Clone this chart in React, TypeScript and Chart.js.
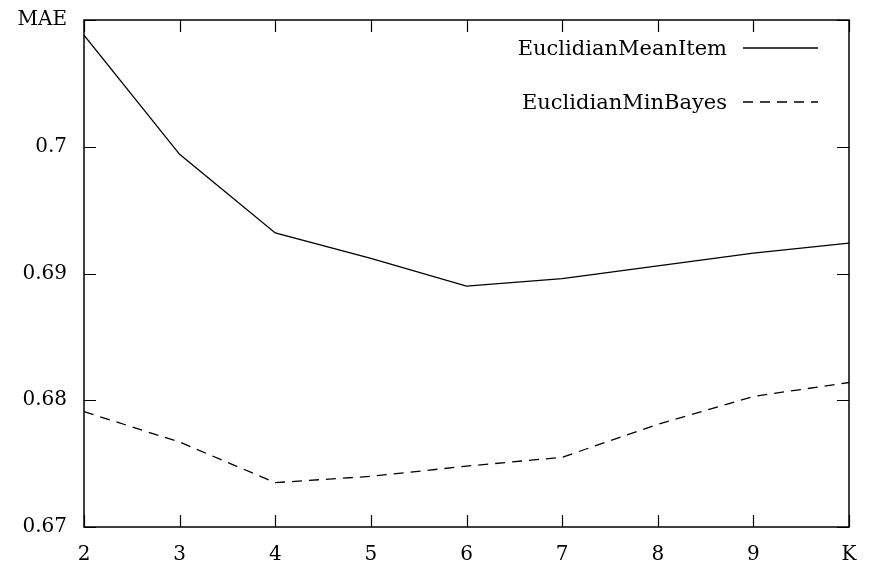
import React, { useEffect, useRef } from "react";
import { Chart, registerables } from "chart.js";

Chart.register(...registerables);

const kValues = [2, 3, 4, 5, 6, 7, 8, 9, 10];
const meanItem = [0.7088, 0.6994, 0.6932, 0.6912, 0.689, 0.6896, 0.6906, 0.6916, 0.6924];
const minBayes = [0.6791, 0.6767, 0.6735, 0.674, 0.6748, 0.6755, 0.6781, 0.6803, 0.6814];
const seriesNames = ["EuclidianMeanItem", "EuclidianMinBayes"];
const xLastLabel = "K";
const yTopLabel = "MAE";

const FONT = "'DejaVu Serif', serif";

const framePlugin = {
  id: "frame",
  afterDatasetsDraw(chart: any) {
    const { ctx, chartArea: a, scales } = chart;
    const xs = scales.x;
    const ys = scales.y;
    ctx.save();
    ctx.strokeStyle = "#000";
    ctx.lineWidth = 1.5;
    ctx.setLineDash([]);
    ctx.strokeRect(a.left, a.top, a.right - a.left, a.bottom - a.top);
    ctx.lineWidth = 1.2;
    const tl = 12;
    ctx.beginPath();
    xs.ticks.forEach((t: any) => {
      const px = Math.round(xs.getPixelForValue(t.value)) + 0.5;
      ctx.moveTo(px, a.bottom);
      ctx.lineTo(px, a.bottom - tl);
      ctx.moveTo(px, a.top);
      ctx.lineTo(px, a.top + tl);
    });
    ys.ticks.forEach((t: any) => {
      const py = Math.round(ys.getPixelForValue(t.value)) + 0.5;
      ctx.moveTo(a.left, py);
      ctx.lineTo(a.left + tl, py);
      ctx.moveTo(a.right, py);
      ctx.lineTo(a.right - tl, py);
    });
    ctx.stroke();

    // legend
    ctx.font = `21px ${FONT}`;
    ctx.fillStyle = "#000";
    ctx.textAlign = "right";
    ctx.textBaseline = "middle";
    const rows = [
      { y: a.top + 30, dash: [] as number[] },
      { y: a.top + 84, dash: [10, 7] },
    ];
    chart.data.datasets.forEach((ds: any, i: number) => {
      const r = rows[i];
      ctx.fillText(ds.label, a.left + 643, r.y);
      ctx.beginPath();
      ctx.setLineDash(r.dash);
      ctx.lineWidth = 1.3;
      ctx.moveTo(a.left + 659, r.y - 2);
      ctx.lineTo(a.left + 734, r.y - 2);
      ctx.stroke();
    });
    ctx.restore();
  },
};

export default function App() {
  const ref = useRef<HTMLCanvasElement>(null);
  useEffect(() => {
    document.body.style.margin = "0";
    const chart = new Chart(ref.current!, {
      type: "line",
      data: {
        datasets: [
          {
            label: seriesNames[0],
            data: kValues.map((k, i) => ({ x: k, y: meanItem[i] })),
            borderColor: "#000",
            borderWidth: 1.3,
            pointRadius: 0,
            tension: 0,
          },
          {
            label: seriesNames[1],
            data: kValues.map((k, i) => ({ x: k, y: minBayes[i] })),
            borderColor: "#000",
            borderWidth: 1.3,
            borderDash: [10, 7],
            pointRadius: 0,
            tension: 0,
          },
        ],
      },
      options: {
        animation: false,
        responsive: false,
        layout: { padding: { top: 20, right: 20, left: 0, bottom: 0 } },
        plugins: { legend: { display: false }, tooltip: { enabled: false } },
        scales: {
          x: {
            type: "linear",
            min: 2,
            max: 10,
            border: { display: false },
            grid: { display: false, drawTicks: false },
            ticks: {
              stepSize: 1,
              color: "#000",
              padding: 16,
              font: { family: FONT, size: 20 },
              maxRotation: 0,
              callback: (v: any) => (v === 10 ? xLastLabel : String(v)),
            },
            afterFit: (s: any) => {
              s.height = 42;
              s.paddingLeft = 0;
              s.paddingRight = 0;
            },
          },
          y: {
            type: "linear",
            min: 0.67,
            max: 0.71,
            border: { display: false },
            grid: { display: false, drawTicks: false },
            ticks: {
              stepSize: 0.01,
              color: "#000",
              padding: 17,
              font: { family: FONT, size: 20 },
              callback: (v: any) => {
                const r = Math.round(v * 100) / 100;
                if (Math.abs(r - 0.71) < 1e-9) return yTopLabel;
                return String(r);
              },
            },
            afterFit: (s: any) => {
              s.width = 84;
              s.paddingTop = 0;
              s.paddingBottom = 0;
            },
          },
        },
      },
      plugins: [framePlugin],
    });
    return () => chart.destroy();
  }, []);
  return (
    <div style={{ width: 869, height: 569 }}>
      <canvas ref={ref} width={869} height={569} style={{ display: "block" }} />
    </div>
  );
}
